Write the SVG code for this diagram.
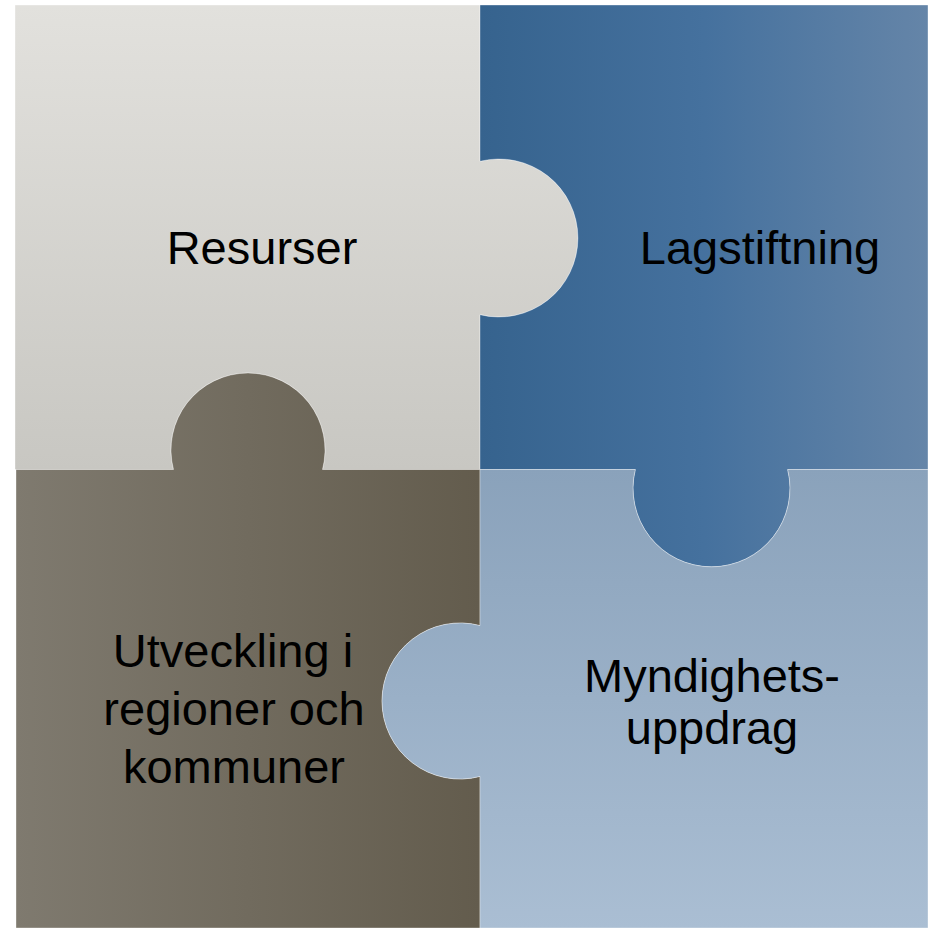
<svg xmlns="http://www.w3.org/2000/svg" width="928" height="928" viewBox="0 0 928 928">
  <defs>
    <linearGradient id="gTL" gradientUnits="userSpaceOnUse" x1="0" y1="5" x2="0" y2="469">
      <stop offset="0" stop-color="#e2e1dd"/>
      <stop offset="1" stop-color="#c8c7c2"/>
    </linearGradient>
    <linearGradient id="gTR" gradientUnits="userSpaceOnUse" x1="480" y1="0" x2="928" y2="0">
      <stop offset="0" stop-color="#36638e"/>
      <stop offset="0.5" stop-color="#45719e"/>
      <stop offset="1" stop-color="#6585a8"/>
    </linearGradient>
    <linearGradient id="gBL" gradientUnits="userSpaceOnUse" x1="16" y1="0" x2="480" y2="0">
      <stop offset="0" stop-color="#7f7a6f"/>
      <stop offset="1" stop-color="#635c4d"/>
    </linearGradient>
    <linearGradient id="gBR" gradientUnits="userSpaceOnUse" x1="0" y1="469" x2="0" y2="928">
      <stop offset="0" stop-color="#8aa2bb"/>
      <stop offset="1" stop-color="#aabed3"/>
    </linearGradient>
  </defs>
  <style>
    .piece { stroke: #ffffff; stroke-opacity: 0.35; stroke-width: 1; }
    .label { font-family: "Liberation Sans", Arial, sans-serif; font-size: 47px; fill: #000000; text-anchor: middle; }
  </style>
  <rect width="928" height="928" fill="#ffffff"/>
  <g id="resurser">
    <path class="piece" fill="url(#gTL)" d="M15,5 H480 V161.3 A79,79 0 1 1 480,314.7 V469.5 H322.5 A77,77 0 1 0 173.5,469.5 H15 Z"/>
    <text class="label" x="262" y="264">Resurser</text>
  </g>
  <g id="lagstiftning">
    <path class="piece" fill="url(#gTR)" d="M480,5 H928 V469.5 H787.7 A78.5,78.5 0 1 1 635.3,469.5 H480 V314.7 A79,79 0 1 0 480,161.3 Z"/>
    <text class="label" x="760" y="264">Lagstiftning</text>
  </g>
  <g id="utveckling">
    <path class="piece" fill="url(#gBL)" d="M16,469.5 H173.5 A77,77 0 1 1 322.5,469.5 H480 V625.6 A78,78 0 1 0 480,776.4 V928 H16 Z"/>
    <text class="label" x="233" y="667">Utveckling i</text>
    <text class="label" x="234" y="725">regioner och</text>
    <text class="label" x="234" y="783">kommuner</text>
  </g>
  <g id="myndighetsuppdrag">
    <path class="piece" fill="url(#gBR)" d="M480,469.5 H635.3 A78.5,78.5 0 1 0 787.7,469.5 H928 V928 H480 V776.4 A78,78 0 1 1 480,625.6 Z"/>
    <text class="label" x="712" y="692">Myndighets-</text>
    <text class="label" x="712" y="744">uppdrag</text>
  </g>
  <g id="connectors"/>
</svg>
